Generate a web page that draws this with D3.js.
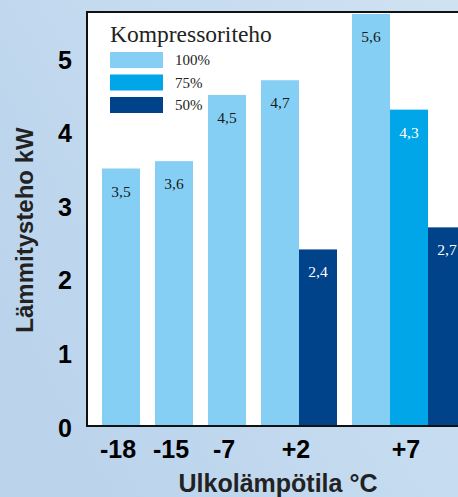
<!DOCTYPE html>
<html>
<head>
<meta charset="utf-8">
<script src="https://cdn.jsdelivr.net/npm/d3@7"></script>
<style>
  body { margin: 0; }
  svg { display: block; }
</style>
</head>
<body>
<svg class="chart"></svg>
<script>

// outdoor temperature groups, and heating power per compressor level (kW)
var categories = ["-18", "-15", "-7", "+2", "+7"];
var series = ["100%", "75%", "50%"];
var power100 = [3.5, 3.6, 4.5, 4.7, 5.6];
var power75  = [null, null, null, null, 4.3];
var power50  = [null, null, null, 2.4, 2.7];
var yTicks = [0, 1, 2, 3, 4, 5];

var legendTitle = "Kompressoriteho";
var yTitle = "Lämmitysteho kW";
var xTitle = "Ulkolämpötila °C";

var colors = ["#86cff4", "#00a6e7", "#00438a"];
var labelColors = ["#1a1a1a", "#ffffff", "#ffffff"];

var W = 458, H = 497;
var frame = {left: 87, top: 12, bottom: 426};
var barW = 38, gapW = 15;

var sans = "'Liberation Sans', Arial, Helvetica, sans-serif";
var serif = "'Liberation Serif', 'Times New Roman', Times, serif";

// build the bars: only existing values, packed inside each group
var columns = [power100, power75, power50];
var bars = [];
var groups = [];
var slot = 0;
categories.forEach(function (c, i) {
  var start = slot;
  columns.forEach(function (col, s) {
    if (col[i] != null) {
      bars.push({cat: c, series: s, value: col[i], pos: slot + i * gapW / barW});
      slot++;
    }
  });
  groups.push({cat: c, mid: (start + slot) / 2 + i * gapW / barW});
});

var x = d3.scaleLinear()
  .domain([0, 1])
  .range([102, 102 + barW]);

var y = d3.scaleLinear()
  .domain([0, 5.6])
  .range([frame.bottom, 14]);

var svg = d3.select(".chart")
  .attr("width", W)
  .attr("height", H);

var defs = svg.append("defs");
var grad = defs.append("linearGradient")
  .attr("id", "bg")
  .attr("x1", "0").attr("y1", "0.6")
  .attr("x2", "1").attr("y2", "0");
grad.append("stop").attr("offset", "0").attr("stop-color", "#bbd4ec");
grad.append("stop").attr("offset", "1").attr("stop-color", "#cfe2f3");

defs.append("clipPath").attr("id", "plot")
  .append("rect")
  .attr("x", frame.left).attr("y", frame.top)
  .attr("width", W - frame.left).attr("height", frame.bottom - frame.top);

svg.append("rect")
  .attr("width", W).attr("height", H)
  .attr("fill", "url(#bg)");

// white plot area
svg.append("rect")
  .attr("x", frame.left).attr("y", frame.top)
  .attr("width", W - frame.left).attr("height", frame.bottom - frame.top)
  .attr("fill", "#fff");

var plot = svg.append("g").attr("clip-path", "url(#plot)");

plot.selectAll("rect.bar")
  .data(bars)
  .enter().append("rect")
  .attr("class", "bar")
  .attr("x", function (d) { return x(d.pos); })
  .attr("y", function (d) { return y(d.value); })
  .attr("width", barW)
  .attr("height", function (d) { return y(0) - y(d.value); })
  .attr("fill", function (d) { return colors[d.series]; });

plot.selectAll("text.val")
  .data(bars)
  .enter().append("text")
  .attr("class", "val")
  .attr("x", function (d) { return x(d.pos + 0.5); })
  .attr("y", function (d) { return y(d.value) + 28; })
  .attr("text-anchor", "middle")
  .style("font-family", serif)
  .style("font-size", "15.5px")
  .attr("fill", function (d) { return labelColors[d.series]; })
  .text(function (d) { return String(d.value).replace(".", ","); });

// legend
var legend = svg.append("g");
legend.append("text")
  .attr("x", 110).attr("y", 42)
  .style("font-family", serif)
  .style("font-size", "23.5px")
  .attr("fill", "#222")
  .text(legendTitle);

var item = legend.selectAll("g.item")
  .data(series)
  .enter().append("g")
  .attr("class", "item")
  .attr("transform", function (d, i) { return "translate(110," + (52 + i * 22.5) + ")"; });
item.append("rect")
  .attr("width", 53).attr("height", 16)
  .attr("fill", function (d, i) { return colors[i]; });
item.append("text")
  .attr("x", 65).attr("y", 13)
  .style("font-family", serif)
  .style("font-size", "15px")
  .attr("fill", "#222")
  .text(function (d) { return d; });

// frame
svg.append("path")
  .attr("d", "M" + W + "," + frame.top + "H" + frame.left + "V" + frame.bottom + "H" + W)
  .attr("fill", "none")
  .attr("stroke", "#111")
  .attr("stroke-width", 2);

// y axis
var yAxis = d3.axisLeft(y).tickValues(yTicks).tickFormat(d3.format("d")).tickSize(0).tickPadding(0);
var gy = svg.append("g")
  .attr("transform", "translate(" + frame.left + ",0)")
  .call(yAxis);
gy.select(".domain").remove();
gy.selectAll("text")
  .attr("x", -22)
  .attr("dy", "0.4em")
  .attr("text-anchor", "middle")
  .style("font-family", sans)
  .style("font-weight", "bold")
  .style("font-size", "25px")
  .attr("fill", "#000");

// x tick labels at group centres
svg.selectAll("text.xtick")
  .data(groups)
  .enter().append("text")
  .attr("class", "xtick")
  .attr("x", function (d) { return x(d.mid) - 3; })
  .attr("y", 458)
  .attr("text-anchor", "middle")
  .style("font-family", sans)
  .style("font-weight", "bold")
  .style("font-size", "25px")
  .attr("fill", "#000")
  .text(function (d) { return d.cat; });

svg.append("text")
  .attr("x", 278).attr("y", 492)
  .attr("text-anchor", "middle")
  .style("font-family", sans)
  .style("font-weight", "bold")
  .style("font-size", "25px")
  .attr("fill", "#222")
  .text(xTitle);

svg.append("text")
  .attr("transform", "translate(33,230) rotate(-90)")
  .attr("text-anchor", "middle")
  .style("font-family", sans)
  .style("font-weight", "bold")
  .style("font-size", "24px")
  .attr("fill", "#222")
  .text(yTitle);

</script>
</body>
</html>
